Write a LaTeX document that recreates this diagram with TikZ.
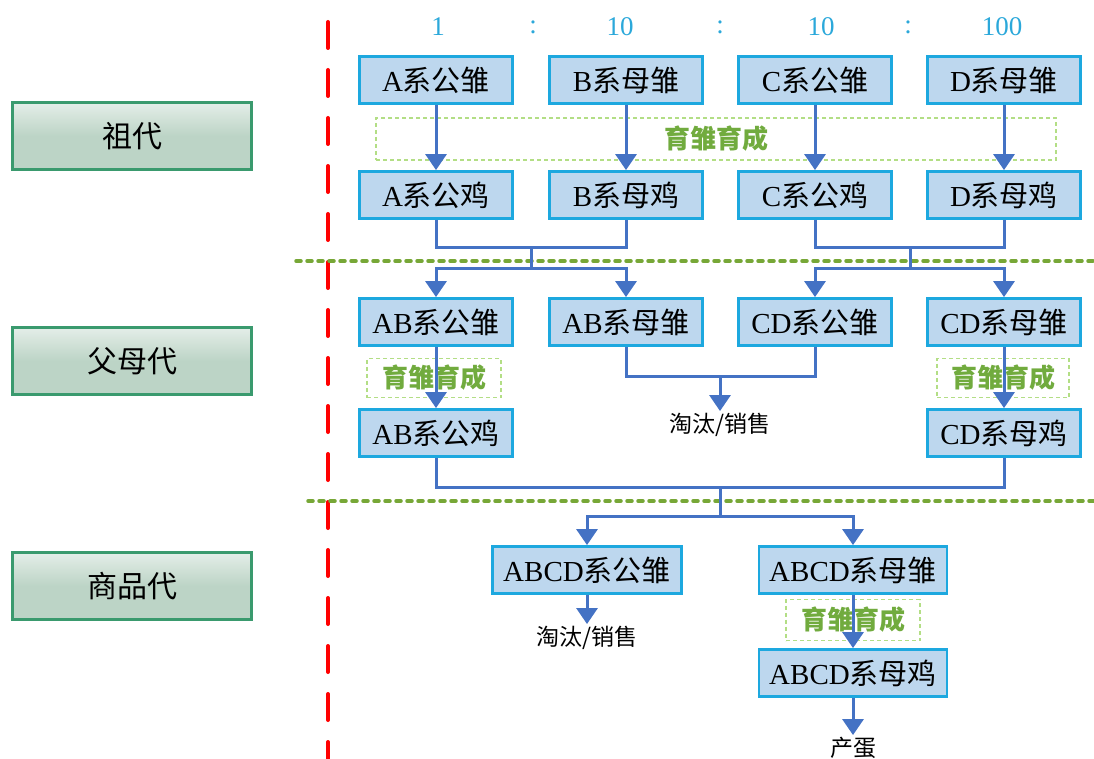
\documentclass[tikz,border=0pt]{standalone}
\usepackage{fontspec}
\setmainfont{Liberation Serif}
\newfontfamily\cjk{Noto Sans CJK SC}
\usetikzlibrary{arrows.meta}
\definecolor{boxfill}{HTML}{BDD7EE}
\definecolor{boxline}{HTML}{1DA8DF}
\definecolor{genfill}{HTML}{BCD4C6}
\definecolor{genline}{HTML}{3A9A6E}
\definecolor{linkblue}{HTML}{4472C4}
\definecolor{rearline}{HTML}{B3DE85}
\definecolor{reartext}{HTML}{71AB3E}
\definecolor{sepgreen}{HTML}{77A737}
\definecolor{ratiocol}{HTML}{2BA8DA}
\newcommand\zh[1]{{\cjk #1}}

\begin{document}
\begin{tikzpicture}[x=1pt,y=-1pt,
  birdbox/.style={draw=boxline, line width=2.8pt, fill=boxfill, minimum width=153pt, minimum height=47pt, inner sep=0pt, font=\fontsize{29}{31}\selectfont},
  genbox/.style={draw=genline, line width=2.8pt, top color=genfill!40!white, bottom color=genfill, middle color=genfill, shading angle=0, minimum width=239pt, minimum height=67pt, inner sep=0pt, font=\fontsize{30}{32}\cjk},
  rearbox/.style={draw=rearline, line width=1.8pt, dash pattern=on 4pt off 3pt, inner sep=0pt, text=reartext, font=\fontsize{26}{28}\cjk\bfseries},
  ratio/.style={text=ratiocol, font=\fontsize{27}{29}\selectfont},
  fate/.style={font=\fontsize{23}{25}\cjk, inner sep=2pt},
  link/.style={draw=linkblue, line width=3pt},
  arr/.style={link, -{Triangle[length=16pt,width=21pt]}},
  sepline/.style={draw=sepgreen, line width=3.5pt, dash pattern=on 5pt off 6pt, line cap=round}]
\useasboundingbox (0,0) rectangle (1094,759);

% generations
\node[genbox] (g1) at (132,136) {祖代};
\node[genbox] (g2) at (132,361) {父母代};
\node[genbox] (g3) at (132,586) {商品代};
\draw[red, line width=4pt, line cap=round, dash pattern=on 26pt off 22pt] (328,22) -- (328,759);

% ratio
\node[ratio] (r1) at (438,27) {1};
\node[ratio] (c1) at (533,27) {:};
\node[ratio] (r2) at (620,27) {10};
\node[ratio] (c2) at (720,27) {:};
\node[ratio] (r3) at (821,27) {10};
\node[ratio] (c3) at (908,27) {:};
\node[ratio] (r4) at (1002,27) {100};

% separators
\draw[sepline] (296,261) -- (1094,261);
\draw[sepline] (308,501) -- (1094,501);

% rearing boxes
\node[rearbox, minimum width=680pt, minimum height=42pt] (rear1) at (716,139) {育雏育成};
\node[rearbox, minimum width=134pt, minimum height=39pt] (rear2) at (434,378) {育雏育成};
\node[rearbox, minimum width=132pt, minimum height=39pt] (rear3) at (1003,378) {育雏育成};
\node[rearbox, minimum width=134pt, minimum height=41pt] (rear4) at (853,620) {育雏育成};

% grandparents
\node[birdbox] (a1) at (436,80) {A\zh{系公雏}};
\node[birdbox] (b1) at (626,80) {B\zh{系母雏}};
\node[birdbox] (c1) at (815,80) {C\zh{系公雏}};
\node[birdbox] (d1) at (1004,80) {D\zh{系母雏}};
\node[birdbox] (a2) at (436,195) {A\zh{系公鸡}};
\node[birdbox] (b2) at (626,195) {B\zh{系母鸡}};
\node[birdbox] (c2) at (815,195) {C\zh{系公鸡}};
\node[birdbox] (d2) at (1004,195) {D\zh{系母鸡}};

% parents
\node[birdbox] (ab1) at (436,322) {AB\zh{系公雏}};
\node[birdbox] (ab2) at (626,322) {AB\zh{系母雏}};
\node[birdbox] (cd1) at (815,322) {CD\zh{系公雏}};
\node[birdbox] (cd2) at (1004,322) {CD\zh{系母雏}};
\node[birdbox] (ab3) at (436,433) {AB\zh{系公鸡}};
\node[birdbox] (cd3) at (1004,433) {CD\zh{系母鸡}};
\node[fate] (cull1) at (720,425) {淘汰/销售};

% commercial
\node[birdbox, minimum width=189pt] (abcd1) at (587,570) {ABCD\zh{系公雏}};
\node[birdbox, minimum width=188pt] (abcd2) at (853,570) {ABCD\zh{系母雏}};
\node[birdbox, minimum width=188pt] (abcd3) at (853,673) {ABCD\zh{系母鸡}};
\node[fate] (cull2) at (587,638) {淘汰/销售};
\node[fate] (egg) at (853,748) {产蛋};

\coordinate (j1) at (531,248); \coordinate (j2) at (531,268);
\coordinate (j3) at (910,248); \coordinate (j4) at (910,268);
\coordinate (j5) at (720,376);
\coordinate (j6) at (720,487); \coordinate (j7) at (720,516);

\draw[arr] (a1) -- (a2); \draw[arr] (b1) -- (b2);
\draw[arr] (c1) -- (c2); \draw[arr] (d1) -- (d2);
\draw[link] (a2) |- (j1) -| (b2); \draw[link] (j1) -- (j2);
\draw[link] (c2) |- (j3) -| (d2); \draw[link] (j3) -- (j4);
\draw[arr] (j2) -| (ab1); \draw[arr] (j2) -| (ab2);
\draw[arr] (j4) -| (cd1); \draw[arr] (j4) -| (cd2);
\draw[link] (ab2) |- (j5) -| (cd1); \draw[arr] (j5) -- (cull1);
\draw[arr] (ab1) -- (ab3); \draw[arr] (cd2) -- (cd3);
\draw[link] (ab3) |- (j6) -| (cd3); \draw[link] (j6) -- (j7);
\draw[arr] (j7) -| (abcd1); \draw[arr] (j7) -| (abcd2);
\draw[arr] (abcd1) -- (cull2);
\draw[arr] (abcd2) -- (abcd3);
\draw[arr] (abcd3) -- (egg);
\end{tikzpicture}
\end{document}
